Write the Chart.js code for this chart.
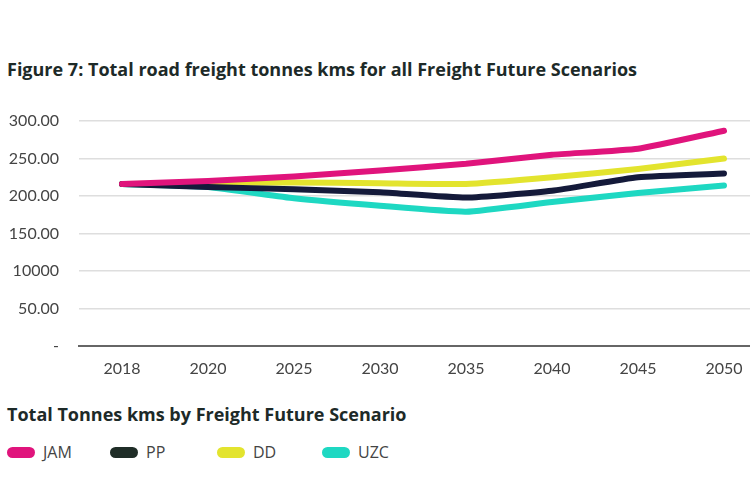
<!DOCTYPE html>
<html>
<head>
<meta charset="utf-8">
<script src="https://cdn.jsdelivr.net/npm/chart.js@4"></script>
<style>
  html, body { margin: 0; padding: 0; background: #fff; overflow: hidden; width: 750px; height: 500px; }
  body { position: relative; font-family: "Open Sans", Lato, sans-serif; }
  .title { position: absolute; left: 7px; font-weight: bold; font-size: 18px; color: #1d2a28; white-space: nowrap; }
  #legend { position: absolute; left: 7px; top: 441px; height: 24px; }
  .item { position: absolute; top: 0; display: flex; align-items: center; font-size: 16px; color: #444; white-space: nowrap; }
  .pill { width: 28px; height: 11px; border-radius: 6px; margin-right: 8px; }
  #wrap { position: absolute; left: 0; top: 0; width: 767px; height: 386px; }
</style>
</head>
<body>
<div class="title" style="top:57px">Figure 7: Total road freight tonnes kms for all Freight Future Scenarios</div>
<div id="wrap"><canvas id="chart"></canvas></div>
<div class="title" style="top:402px">Total Tonnes kms by Freight Future Scenario</div>
<div id="legend"></div>
<script>
const years = ['2018', '2020', '2025', '2030', '2035', '2040', '2045', '2050'];
const yTickLabels = ['-', '50.00', '10000', '150.00', '200.00', '250.00', '300.00'];

const jam = [216, 220, 226, 234, 243, 255, 263, 287];
const pp  = [216, 212, 209, 205, 198, 207, 225, 230];
const dd  = [216, 217, 218, 217, 216, 225, 236, 250];
const uzc = [216, 212, 197, 187, 179, 192, 204, 214];

const seriesNames  = ['JAM', 'PP', 'DD', 'UZC'];
const seriesValues = [jam, pp, dd, uzc];
const seriesColors = ['#e0147c', '#141a3a', '#e3e42e', '#1ed8c2'];
const legendX = [0, 103, 210, 315];

// legend under the chart
const legend = document.getElementById('legend');
seriesNames.forEach((name, i) => {
    const item = document.createElement('div');
    item.className = 'item';
    item.style.left = legendX[i] + 'px';
    item.innerHTML = '<span class="pill" style="background:' + (i === 1 ? '#1f2d27' : seriesColors[i]) + '"></span>' + name;
    legend.appendChild(item);
});

const ctx = document.getElementById('chart').getContext('2d');

new Chart(ctx, {
    type: 'line',
    data: {
        labels: years,
        datasets: seriesNames.map((name, i) => ({
            label: name,
            data: seriesValues[i],
            borderColor: seriesColors[i],
            backgroundColor: seriesColors[i],
            borderWidth: 6,
            borderCapStyle: 'round',
            borderJoinStyle: 'round',
            tension: 0.15,
            pointRadius: 0,
            fill: false
        }))
    },
    options: {
        responsive: true,
        maintainAspectRatio: false,
        animation: false,
        layout: { padding: { top: 121, left: 0, right: 0, bottom: 0 } },
        plugins: {
            legend: { display: false },
            tooltip: { enabled: false }
        },
        scales: {
            x: {
                offset: true,
                grid: { display: false },
                border: { display: true, color: '#666', width: 2 },
                ticks: {
                    color: '#444',
                    padding: 5,
                    maxRotation: 0,
                    font: { family: 'Lato', size: 16 }
                },
                afterFit: scale => { scale.height = 40; }
            },
            y: {
                min: 0,
                max: 300,
                grid: { color: '#dedede', lineWidth: 1.5, drawTicks: false },
                border: { display: false },
                ticks: {
                    stepSize: 50,
                    color: '#444',
                    padding: 20,
                    font: { family: 'Lato', size: 16 },
                    callback: (value, index) => yTickLabels[index]
                },
                afterFit: scale => { scale.width = 79; }
            }
        }
    }
});
</script>
</body>
</html>
